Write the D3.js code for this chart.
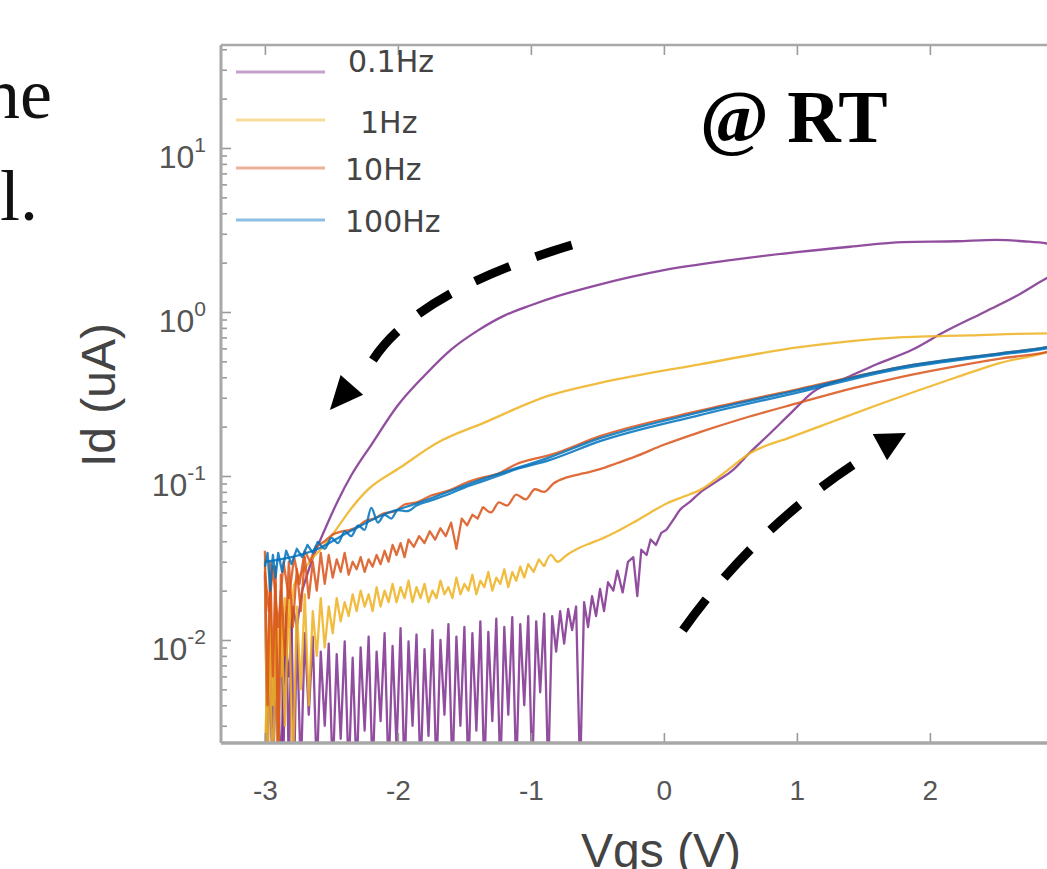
<!DOCTYPE html>
<html><head><meta charset="utf-8">
<script src="https://cdn.jsdelivr.net/npm/d3@7"></script>
<style>html,body{margin:0;padding:0;background:#fff;overflow:hidden}</style>
</head><body>
<svg id="c" width="1047" height="869"></svg>
<script>
// ---------- data (Vgs in V, Id in uA) ----------
const seriesNames = ["0.1Hz", "1Hz", "10Hz", "100Hz"];
const xTicks = [-3, -2, -1, 0, 1, 2, 3];
const yTickExps = [-2, -1, 0, 1];

// 0.1 Hz
const id01Fwd = [[-3.00,0.025],[-2.98,0.0015],[-2.96,0.022],[-2.94,0.0015],[-2.92,0.018],[-2.90,0.0015],[-2.88,0.020],[-2.86,0.002],[-2.84,0.016],[-2.82,0.0015],[-2.80,0.014],[-2.78,0.0015],[-2.76,0.012],[-2.73,0.0015],[-2.70,0.011],[-2.67,0.0035],[-2.64,0.0105],[-2.61,0.0015],[-2.58,0.0085],[-2.55,0.003],[-2.52,0.0095],[-2.49,0.0015],[-2.46,0.0082],[-2.43,0.0025],[-2.40,0.0098],[-2.37,0.0015],[-2.34,0.0078],[-2.31,0.0015],[-2.28,0.0090],[-2.25,0.0028],[-2.22,0.0105],[-2.19,0.0015],[-2.16,0.0085],[-2.13,0.0032],[-2.10,0.0110],[-2.07,0.0015],[-2.04,0.0092],[-2.01,0.0022],[-1.98,0.0118],[-1.95,0.0015],[-1.92,0.0098],[-1.89,0.0030],[-1.86,0.0108],[-1.83,0.0015],[-1.80,0.0088],[-1.77,0.0026],[-1.74,0.0115],[-1.71,0.0015],[-1.68,0.0100],[-1.65,0.0035],[-1.62,0.0125],[-1.59,0.0015],[-1.56,0.0105],[-1.53,0.0030],[-1.50,0.0120],[-1.47,0.0015],[-1.44,0.0110],[-1.41,0.0028],[-1.38,0.0130],[-1.35,0.0015],[-1.32,0.0112],[-1.29,0.0032],[-1.26,0.0135],[-1.23,0.0015],[-1.20,0.0120],[-1.17,0.0035],[-1.14,0.0138],[-1.11,0.0015],[-1.08,0.0125],[-1.05,0.0040],[-1.02,0.0140],[-0.99,0.0015],[-0.96,0.0130],[-0.93,0.0048],[-0.90,0.0145],[-0.87,0.0015],[-0.84,0.0140],[-0.81,0.0085],[-0.78,0.0150],[-0.75,0.0095],[-0.72,0.0155],[-0.69,0.0115],[-0.66,0.0160],[-0.63,0.0015],[-0.60,0.0170],[-0.57,0.0120],[-0.54,0.0185],[-0.51,0.0140],[-0.48,0.0205],[-0.45,0.0150],[-0.42,0.0225],[-0.38,0.0200],[-0.35,0.0265],[-0.31,0.0195],[-0.27,0.0300],[-0.23,0.0320],[-0.20,0.0185],[-0.17,0.0355],[-0.13,0.0330],[-0.10,0.0410],[-0.06,0.0380],[-0.02,0.0450],[0.02,0.0470],[0.07,0.0540],[0.12,0.0620],[0.20,0.0700],[0.27,0.0790],[0.40,0.0930],[0.52,0.1090],[0.65,0.1400],[0.77,0.1730],[0.95,0.2400],[1.12,0.3250],[1.38,0.4000],[1.60,0.4800],[1.87,0.5900],[2.10,0.7500],[2.40,0.9900],[2.65,1.2500],[2.88,1.6100],[3.00,1.8000]];
const id01Bwd = [[3.00,2.20],[2.90,2.60],[2.70,2.70],[2.50,2.75],[2.20,2.70],[1.80,2.67],[1.40,2.50],[1.00,2.32],[0.50,2.07],[0.00,1.80],[-0.50,1.46],[-0.80,1.25],[-1.00,1.10],[-1.20,0.95],[-1.40,0.77],[-1.60,0.59],[-1.80,0.41],[-2.00,0.27],[-2.20,0.155],[-2.35,0.101],[-2.45,0.071],[-2.55,0.047],[-2.65,0.030],[-2.72,0.020],[-2.76,0.012],[-2.79,0.016],[-2.82,0.006],[-2.85,0.010],[-2.88,0.0015],[-2.91,0.009],[-2.94,0.0015],[-2.97,0.007],[-3.00,0.0015]];

// 1 Hz
const id1Fwd = [[-3.00,0.030],[-2.98,0.0015],[-2.96,0.020],[-2.94,0.004],[-2.92,0.022],[-2.90,0.0015],[-2.88,0.018],[-2.85,0.003],[-2.82,0.020],[-2.79,0.0015],[-2.76,0.016],[-2.73,0.005],[-2.70,0.019],[-2.67,0.004],[-2.64,0.015],[-2.61,0.008],[-2.58,0.018],[-2.55,0.009],[-2.52,0.016],[-2.49,0.011],[-2.46,0.018],[-2.43,0.013],[-2.40,0.017],[-2.37,0.014],[-2.34,0.019],[-2.31,0.015],[-2.28,0.020],[-2.25,0.016],[-2.22,0.019],[-2.19,0.015],[-2.16,0.021],[-2.13,0.016],[-2.10,0.020],[-2.07,0.017],[-2.04,0.022],[-2.01,0.017],[-1.98,0.021],[-1.95,0.018],[-1.92,0.023],[-1.89,0.017],[-1.86,0.021],[-1.83,0.018],[-1.80,0.022],[-1.77,0.017],[-1.74,0.020],[-1.71,0.018],[-1.68,0.023],[-1.65,0.019],[-1.62,0.021],[-1.59,0.018],[-1.56,0.024],[-1.53,0.019],[-1.50,0.022],[-1.47,0.020],[-1.44,0.025],[-1.41,0.019],[-1.38,0.023],[-1.35,0.021],[-1.32,0.026],[-1.29,0.020],[-1.26,0.024],[-1.23,0.022],[-1.20,0.027],[-1.17,0.021],[-1.14,0.026],[-1.11,0.023],[-1.08,0.028],[-1.05,0.024],[-1.02,0.029],[-0.98,0.026],[-0.94,0.031],[-0.90,0.028],[-0.85,0.033],[-0.80,0.030],[-0.73,0.033],[-0.65,0.036],[-0.55,0.039],[-0.48,0.041],[-0.35,0.046],[-0.23,0.052],[-0.10,0.060],[0.02,0.068],[0.15,0.075],[0.27,0.082],[0.45,0.104],[0.65,0.138],[0.95,0.172],[1.27,0.215],[1.60,0.270],[1.90,0.330],[2.20,0.400],[2.53,0.490],[2.88,0.570],[3.00,0.620]];
const id1Bwd = [[3.00,0.72],[2.88,0.74],[2.30,0.72],[1.77,0.70],[1.02,0.61],[0.27,0.48],[-0.48,0.37],[-0.86,0.31],[-1.36,0.21],[-1.70,0.16],[-1.98,0.113],[-2.23,0.082],[-2.38,0.059],[-2.45,0.049],[-2.55,0.038],[-2.65,0.031],[-2.72,0.026],[-2.78,0.022],[-2.82,0.012],[-2.85,0.018],[-2.88,0.006],[-2.91,0.014],[-2.94,0.0015],[-2.97,0.012],[-3.00,0.002]];

// 10 Hz
const id10Fwd = [[-3.00,0.035],[-2.98,0.004],[-2.96,0.030],[-2.94,0.006],[-2.92,0.028],[-2.90,0.0015],[-2.88,0.025],[-2.85,0.008],[-2.82,0.030],[-2.79,0.012],[-2.76,0.027],[-2.73,0.015],[-2.70,0.032],[-2.67,0.018],[-2.64,0.030],[-2.61,0.020],[-2.58,0.034],[-2.55,0.022],[-2.52,0.033],[-2.49,0.024],[-2.46,0.031],[-2.43,0.026],[-2.40,0.034],[-2.37,0.025],[-2.34,0.030],[-2.31,0.027],[-2.28,0.032],[-2.25,0.026],[-2.22,0.031],[-2.19,0.028],[-2.16,0.033],[-2.13,0.029],[-2.10,0.035],[-2.07,0.030],[-2.04,0.038],[-2.01,0.033],[-1.98,0.039],[-1.95,0.032],[-1.92,0.041],[-1.88,0.037],[-1.84,0.043],[-1.80,0.039],[-1.76,0.046],[-1.72,0.041],[-1.68,0.048],[-1.64,0.043],[-1.60,0.052],[-1.56,0.036],[-1.52,0.055],[-1.48,0.050],[-1.44,0.058],[-1.40,0.055],[-1.36,0.065],[-1.30,0.060],[-1.24,0.069],[-1.18,0.066],[-1.11,0.077],[-1.04,0.072],[-0.97,0.083],[-0.90,0.080],[-0.83,0.090],[-0.73,0.098],[-0.60,0.104],[-0.48,0.110],[-0.35,0.120],[-0.23,0.130],[0.00,0.155],[0.27,0.185],[0.60,0.225],[1.02,0.280],[1.40,0.340],[1.77,0.400],[2.15,0.460],[2.53,0.520],[2.88,0.570],[3.00,0.600]];
const id10Bwd = [[3.00,0.64],[2.88,0.61],[2.53,0.56],[1.77,0.46],[1.02,0.34],[0.27,0.25],[-0.48,0.175],[-0.86,0.134],[-1.00,0.126],[-1.11,0.118],[-1.25,0.103],[-1.36,0.098],[-1.50,0.090],[-1.61,0.082],[-1.75,0.076],[-1.86,0.069],[-1.95,0.067],[-2.02,0.061],[-2.11,0.059],[-2.18,0.055],[-2.25,0.053],[-2.30,0.049],[-2.36,0.047],[-2.42,0.046],[-2.49,0.044],[-2.55,0.040],[-2.62,0.037],[-2.66,0.030],[-2.70,0.035],[-2.74,0.022],[-2.78,0.032],[-2.82,0.018],[-2.86,0.030],[-2.90,0.012],[-2.94,0.028],[-2.97,0.015],[-3.00,0.026]];

// 100 Hz
const id100Fwd = [[-3.00,0.028],[-2.98,0.034],[-2.96,0.020],[-2.94,0.033],[-2.92,0.024],[-2.90,0.034],[-2.87,0.026],[-2.84,0.035],[-2.80,0.029],[-2.76,0.036],[-2.72,0.032],[-2.68,0.038],[-2.64,0.034],[-2.60,0.040],[-2.55,0.036],[-2.50,0.042],[-2.45,0.039],[-2.40,0.046],[-2.35,0.043],[-2.30,0.050],[-2.25,0.047],[-2.20,0.064],[-2.15,0.052],[-2.10,0.058],[-2.05,0.055],[-2.00,0.062],[-1.93,0.061],[-1.86,0.066],[-1.75,0.071],[-1.61,0.078],[-1.50,0.085],[-1.36,0.093],[-1.25,0.100],[-1.11,0.110],[-0.86,0.125],[-0.48,0.163],[0.27,0.235],[1.02,0.325],[1.77,0.450],[2.53,0.550],[2.88,0.600],[3.00,0.630]];
const id100Bwd = [[3.00,0.64],[2.88,0.61],[2.53,0.56],[1.77,0.46],[1.02,0.335],[0.27,0.245],[-0.48,0.170],[-0.86,0.130],[-1.36,0.096],[-1.86,0.068],[-2.11,0.058],[-2.36,0.046],[-2.60,0.036],[-2.80,0.032],[-3.00,0.030]];

// sweep-direction arrows (data coordinates): start, control, end of dashed shaft; head base, tip
const arrowBackShaft = [[-0.692,2.56],[-1.853,1.334],[-2.188,0.51]];
const arrowBackHead  = [[-2.346,0.359],[-2.511,0.2526]];
const arrowFwdShaft  = [[0.143,0.0115],[0.677,0.0465],[1.421,0.1167]];
const arrowFwdHead   = [[1.624,0.150],[1.820,0.183]];

// ---------- styles ----------
const colors = ["#7E2F8E", "#EDB120", "#D95319", "#0072BD"];

// ---------- drawing ----------
const svg = d3.select("#c");
const x = d3.scaleLinear().domain([-3.33, 3.3]).range([221, 1102.8]);
const y = d3.scaleLog().domain([Math.pow(10, -2.628), Math.pow(10, 1.628)]).range([743, 45]);

// cut-off surrounding paragraph text
svg.append("text").attr("x", 52).attr("y", 118).attr("text-anchor", "end")
  .attr("font-family", "Liberation Serif, serif").attr("font-size", 72).attr("fill", "#111").text("ne");
svg.append("text").attr("x", 38).attr("y", 220).attr("text-anchor", "end")
  .attr("font-family", "Liberation Serif, serif").attr("font-size", 72).attr("fill", "#111").text("l.");

svg.append("defs").append("clipPath").attr("id", "plotclip")
  .append("rect").attr("x", 221).attr("y", 45).attr("width", 882).attr("height", 698);

const plot = svg.append("g").attr("clip-path", "url(#plotclip)");
const lineRaw = d3.line().x(d => x(d[0])).y(d => y(Math.max(d[1], 1e-4)));
const lineSmooth = d3.line().curve(d3.curveMonotoneX).x(d => x(d[0])).y(d => y(Math.max(d[1], 1e-4)));
const branches = [[id01Fwd, id01Bwd], [id1Fwd, id1Bwd], [id10Fwd, id10Bwd], [id100Fwd, id100Bwd]];
branches.forEach((pair, i) => {
  pair.forEach(pts => {
    const s = pts.slice().sort((a, b) => a[0] - b[0]);
    // densely sampled (noisy) part drawn raw, sparse smooth part drawn with a smooth curve
    let k = s.length - 1;
    while (k > 0 && s[k][0] - s[k - 1][0] > 0.045) k--;
    const parts = [[s.slice(0, k + 1), lineRaw], [s.slice(k), lineSmooth]];
    parts.forEach(([seg, gen]) => {
      if (seg.length < 2) return;
      plot.append("path").attr("d", gen(seg)).attr("fill", "none")
        .attr("stroke", colors[i]).attr("stroke-width", 2.3).attr("stroke-opacity", 0.85)
        .attr("stroke-linejoin", "round");
    });
  });
});

// axes (MATLAB style, ticks inward)
const axisColor = "#9a9a9a";
const gB = svg.append("g").attr("transform", "translate(0,743)")
  .call(d3.axisBottom(x).tickValues(xTicks).tickSize(-10).tickPadding(37).tickFormat(d => String(d)));
const gT = svg.append("g").attr("transform", "translate(0,45)")
  .call(d3.axisTop(x).tickValues(xTicks).tickSize(-10).tickFormat(""));
const majors = yTickExps.map(e => Math.pow(10, e));
const minors = [];
for (let e = -3; e <= 1; e++) for (let m = 2; m <= 9; m++) {
  const v = m * Math.pow(10, e);
  if (v >= y.domain()[0] && v <= y.domain()[1]) minors.push(v);
}
const gL = svg.append("g").attr("transform", "translate(221,0)")
  .call(d3.axisLeft(y).tickValues(majors).tickSize(-10).tickFormat(""));
const gLm = svg.append("g").attr("transform", "translate(221,0)")
  .call(d3.axisLeft(y).tickValues(minors).tickSize(-6).tickFormat(""));
[gB, gT, gL, gLm].forEach(g => {
  g.select(".domain").remove();
  g.selectAll(".tick line").attr("stroke", axisColor).attr("stroke-width", 1.6);
});
gB.selectAll(".tick text").attr("font-family", "Liberation Sans, Arial, sans-serif")
  .attr("font-size", 28).attr("fill", "#555");

// frame
svg.append("line").attr("x1", 221).attr("x2", 1047).attr("y1", 45).attr("y2", 45)
  .attr("stroke", "#a8a8a8").attr("stroke-width", 2.5);
svg.append("line").attr("x1", 221).attr("x2", 221).attr("y1", 45).attr("y2", 743)
  .attr("stroke", "#a8a8a8").attr("stroke-width", 3);
svg.append("line").attr("x1", 221).attr("x2", 1047).attr("y1", 743).attr("y2", 743)
  .attr("stroke", "#a8a8a8").attr("stroke-width", 3.5);

// y tick labels 10^n
yTickExps.forEach(e => {
  const t = svg.append("text").attr("x", 206).attr("y", y(Math.pow(10, e)) + 20)
    .attr("text-anchor", "end").attr("font-family", "Liberation Sans, Arial, sans-serif").attr("fill", "#555");
  t.append("tspan").attr("font-size", 32).text("10");
  t.append("tspan").attr("font-size", 21).attr("dy", -16).text(String(e));
});

// axis labels
svg.append("text").attr("x", 661).attr("y", 867).attr("text-anchor", "middle")
  .attr("font-family", "Liberation Sans, Arial, sans-serif").attr("font-size", 48).attr("fill", "#444")
  .text("Vgs (V)");
svg.append("text").attr("transform", "translate(115,395) rotate(-90)").attr("text-anchor", "middle")
  .attr("font-family", "Liberation Sans, Arial, sans-serif").attr("font-size", 48).attr("fill", "#444")
  .text("Id (uA)");

// legend
const legLineY = [72, 120, 168, 220];
const legTextX = [348, 360, 345, 345];
const legTextY = [61, 122, 169, 221];
seriesNames.forEach((n, i) => {
  svg.append("line").attr("x1", 236).attr("x2", 325).attr("y1", legLineY[i]).attr("y2", legLineY[i])
    .attr("stroke", colors[i]).attr("stroke-width", 3).attr("stroke-opacity", 0.45);
  svg.append("text").attr("x", legTextX[i]).attr("y", legTextY[i]).attr("dy", "0.36em")
    .attr("font-family", "DejaVu Sans, sans-serif").attr("font-size", 30).attr("fill", "#444").text(n);
});

// @ RT
svg.append("text").attr("x", 700).attr("y", 142)
  .attr("font-family", "Liberation Serif, serif").attr("font-weight", "bold").attr("font-size", 74)
  .attr("fill", "#000").text("@ RT");

// dashed sweep arrows
function drawArrow(shaft, head) {
  const p = shaft.map(d => [x(d[0]), y(d[1])]);
  const path = svg.append("path")
    .attr("d", `M${p[0][0]},${p[0][1]} Q${p[1][0]},${p[1][1]} ${p[2][0]},${p[2][1]}`)
    .attr("fill", "none").attr("stroke", "#000").attr("stroke-width", 9);
  const L = path.node().getTotalLength();
  const dash = L / (4 + 3 * 26 / 36);
  path.attr("stroke-dasharray", `${dash},${dash * 26 / 36}`);
  const b = [x(head[0][0]), y(head[0][1])], t = [x(head[1][0]), y(head[1][1])];
  const dx = t[0] - b[0], dy = t[1] - b[1], len = Math.hypot(dx, dy);
  const px = -dy / len * 15, py = dx / len * 15;
  svg.append("polygon")
    .attr("points", `${t[0]},${t[1]} ${b[0] + px},${b[1] + py} ${b[0] - px},${b[1] - py}`)
    .attr("fill", "#000");
}
drawArrow(arrowBackShaft, arrowBackHead);
drawArrow(arrowFwdShaft, arrowFwdHead);
</script>
</body></html>
